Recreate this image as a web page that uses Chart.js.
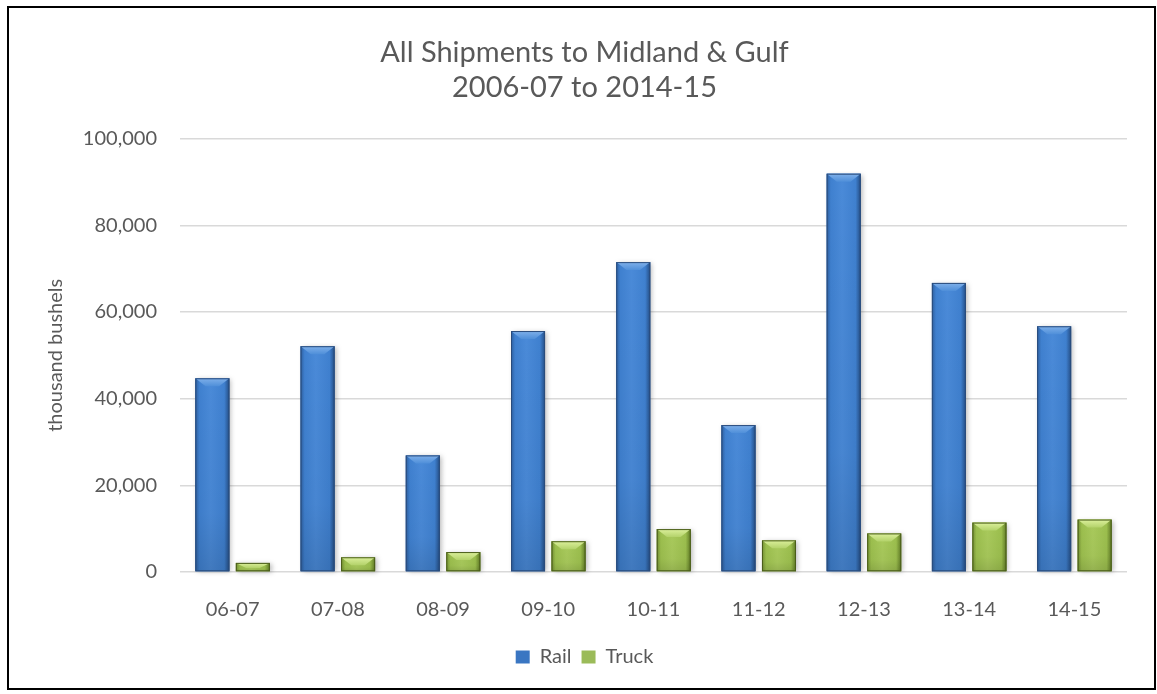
<!DOCTYPE html>
<html>
<head>
<meta charset="utf-8">
<script src="https://cdn.jsdelivr.net/npm/chart.js@4/dist/chart.umd.min.js"></script>
<style>
  html, body { margin: 0; padding: 0; background: #ffffff; }
  #wrap { width: 1157px; height: 694px; position: relative; }
</style>
</head>
<body>
<div id="wrap"><canvas id="c" width="1157" height="694"></canvas></div>
<script>
const categories = ['06-07', '07-08', '08-09', '09-10', '10-11', '11-12', '12-13', '13-14', '14-15'];
const railValues = [44700, 52100, 26900, 55600, 71500, 33900, 91900, 66700, 56700];
const truckValues = [2100, 3400, 4600, 7100, 9900, 7300, 8900, 11400, 12100];
const titleLines = ['All Shipments to Midland & Gulf', '2006-07 to 2014-15'];
const yAxisTitle = 'thousand bushels';

const FONT = 'Lato, Carlito, Calibri, "Open Sans", sans-serif';
const TEXT = '#595959';

const palettes = [
  { edgeL: '#2d5e9e', mid: '#3f80cf', light: '#4a8ad8', edgeR: '#244d84', bevel: '#7fb0ea', bevelSide: '#4f8fd9', outline: '#2a4c7c' },
  { edgeL: '#738f32', mid: '#9cbf4e', light: '#a9ca5c', edgeR: '#5f7a25', bevel: '#dcf09c', bevelSide: '#b3d26a', outline: '#4a5d1a' }
];

const borderPlugin = {
  id: 'frame',
  beforeDraw(chart) {
    const ctx = chart.ctx;
    ctx.save();
    ctx.fillStyle = '#ffffff';
    ctx.fillRect(0, 0, chart.width, chart.height);
    ctx.restore();
  },
  afterDraw(chart) {
    const ctx = chart.ctx;
    ctx.save();
    ctx.strokeStyle = '#000000';
    ctx.lineWidth = 2;
    ctx.strokeRect(8, 7, 1147, 682);
    ctx.restore();
  }
};

const bevelPlugin = {
  id: 'bevelBars',
  afterDatasetsDraw(chart) {
    const ctx = chart.ctx;
    chart.data.datasets.forEach((ds, di) => {
      const meta = chart.getDatasetMeta(di);
      const p = palettes[di];
      meta.data.forEach(bar => {
        const w = bar.width;
        const l = bar.x - w / 2, r = bar.x + w / 2;
        const top = bar.y, bot = bar.base;
        const h = bot - top;
        if (h <= 0) return;
        ctx.save();
        ctx.shadowColor = 'rgba(0,0,0,0.28)';
        ctx.shadowBlur = 5;
        ctx.shadowOffsetX = 2;
        ctx.shadowOffsetY = 1;
        const g = ctx.createLinearGradient(l, 0, r, 0);
        g.addColorStop(0, p.edgeL);
        g.addColorStop(0.12, p.mid);
        g.addColorStop(0.45, p.light);
        g.addColorStop(0.85, p.mid);
        g.addColorStop(1, p.edgeR);
        ctx.fillStyle = g;
        ctx.fillRect(l, top, w, h);
        ctx.shadowColor = 'transparent';
        const gv = ctx.createLinearGradient(0, top, 0, bot);
        gv.addColorStop(0, 'rgba(0,0,0,0)');
        gv.addColorStop(0.7, 'rgba(0,0,0,0.03)');
        gv.addColorStop(1, 'rgba(0,0,0,0.12)');
        ctx.fillStyle = gv;
        ctx.fillRect(l, top, w, h);
        const d = Math.min(8, h * 0.6);
        const inset = w * 0.3;
        ctx.beginPath();
        ctx.moveTo(l, top);
        ctx.lineTo(r, top);
        ctx.lineTo(r - inset, top + d);
        ctx.lineTo(l + inset, top + d);
        ctx.closePath();
        const gb = ctx.createLinearGradient(0, top, 0, top + d);
        gb.addColorStop(0, p.bevel);
        gb.addColorStop(1, p.bevelSide);
        ctx.fillStyle = gb;
        ctx.fill();
        ctx.strokeStyle = p.outline;
        ctx.lineWidth = 1;
        ctx.strokeRect(l + 0.5, top + 0.5, w - 1, h - 1);
        ctx.restore();
      });
    });
  }
};

new Chart(document.getElementById('c'), {
  type: 'bar',
  data: {
    labels: categories,
    datasets: [
      { label: 'Rail', data: railValues, backgroundColor: '#3a76c2', borderWidth: 0,
        categoryPercentage: 0.77, barPercentage: 0.84 },
      { label: 'Truck', data: truckValues, backgroundColor: '#9bbb59', borderWidth: 0,
        categoryPercentage: 0.77, barPercentage: 0.84 }
    ]
  },
  options: {
    responsive: false,
    animation: false,
    devicePixelRatio: 1,
    layout: { padding: { left: 12, right: 0, top: 8, bottom: 17 } },
    plugins: {
      title: {
        display: true,
        text: titleLines,
        color: TEXT,
        font: { family: FONT, size: 29, weight: 'normal', lineHeight: 1.2 },
        padding: { top: 27, bottom: 34 }
      },
      legend: {
        position: 'bottom',
        labels: {
          color: TEXT,
          font: { family: FONT, size: 20 },
          boxWidth: 14,
          boxHeight: 13,
          padding: 10
        }
      },
      tooltip: { enabled: false }
    },
    scales: {
      x: {
        grid: { display: false },
        border: { display: false },
        ticks: { color: TEXT, font: { family: FONT, size: 20 }, padding: 18, maxRotation: 0 },
        afterFit(s) { s.height = 65; }
      },
      y: {
        min: 0,
        max: 100000,
        grid: { color: '#d9d9d9', lineWidth: 1.5, drawTicks: false },
        border: { display: false },
        ticks: {
          stepSize: 20000,
          color: TEXT,
          font: { family: FONT, size: 20 },
          padding: 23,
          callback: v => v.toLocaleString('en-US')
        },
        title: {
          display: true,
          text: yAxisTitle,
          color: TEXT,
          font: { family: FONT, size: 20 },
          padding: { top: 32, bottom: 0 }
        },
        afterFit(s) { s.width = 168; }
      },
      y2: {
        position: 'right',
        display: true,
        grid: { display: false },
        border: { display: false },
        ticks: { display: false },
        afterFit(s) { s.width = 30; }
      }
    }
  },
  plugins: [borderPlugin, bevelPlugin]
});
</script>
</body>
</html>
